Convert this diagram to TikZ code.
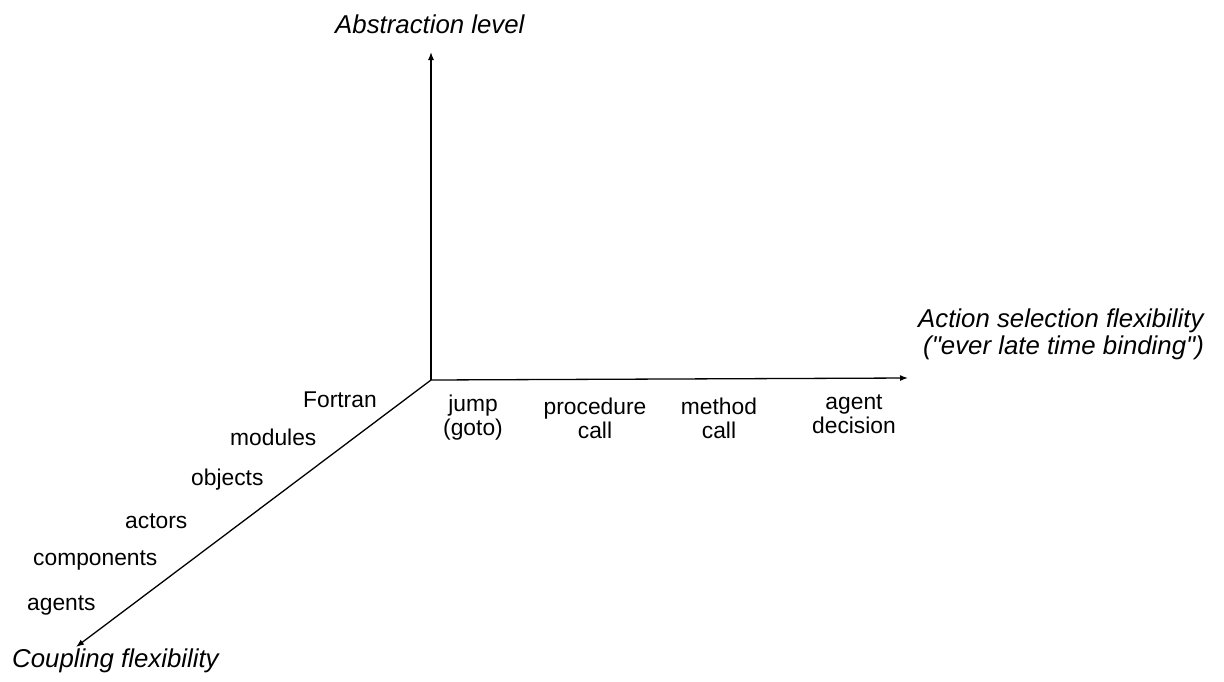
\documentclass[tikz,border=0pt]{standalone}
\usepackage{fontspec}
\setmainfont{Liberation Sans}
\newfontfamily\ttlfont{Liberation Sans}[Ligatures=TeXOff]
\usetikzlibrary{arrows.meta}
\begin{document}
\begin{tikzpicture}[x=1pt,y=-1pt,
  axis/.style={line width=1.3pt,-{Latex[length=8pt,width=6pt]}},
  lbl/.style={font=\fontsize{22.8}{24}\selectfont,inner sep=0pt},
  ttl/.style={font=\ttlfont\fontsize{25.8}{23.5}\selectfont\itshape,inner sep=0pt}]
\useasboundingbox (0,0) rectangle (1224,681);
\coordinate (o) at (431,380);
\coordinate (top) at (431,52);
\coordinate (right) at (908,378);
\coordinate (diag) at (76,647);
\draw[axis] (o) -- (top);
\draw[axis] (o) -- (right);
\draw[axis] (o) -- (diag);
\node[ttl,anchor=base west] (tA) at (335,33) {Abstraction level};
\node[ttl,anchor=base west] (tB) at (918,327) {Action selection flexibility};
\node[ttl,anchor=base west] (tB2) at (923,354) {("ever late time binding")};
\node[ttl,anchor=base west] (tC) at (12,667) {Coupling flexibility};
\node[lbl,align=center] (h1) at (473,418) {jump\\(goto)};
\node[lbl,align=center] (h2) at (595,418) {procedure\\call};
\node[lbl,align=center] (h3) at (719,418) {method\\call};
\node[lbl,align=center] (h4) at (854,414) {agent\\decision};
\node[lbl,anchor=base west] (d1) at (303,407) {Fortran};
\node[lbl,anchor=base west] (d2) at (230,445) {modules};
\node[lbl,anchor=base west] (d3) at (191,485) {objects};
\node[lbl,anchor=base west] (d4) at (125,528) {actors};
\node[lbl,anchor=base west] (d5) at (33,565) {components};
\node[lbl,anchor=base west] (d6) at (27,610) {agents};
\end{tikzpicture}
\end{document}
